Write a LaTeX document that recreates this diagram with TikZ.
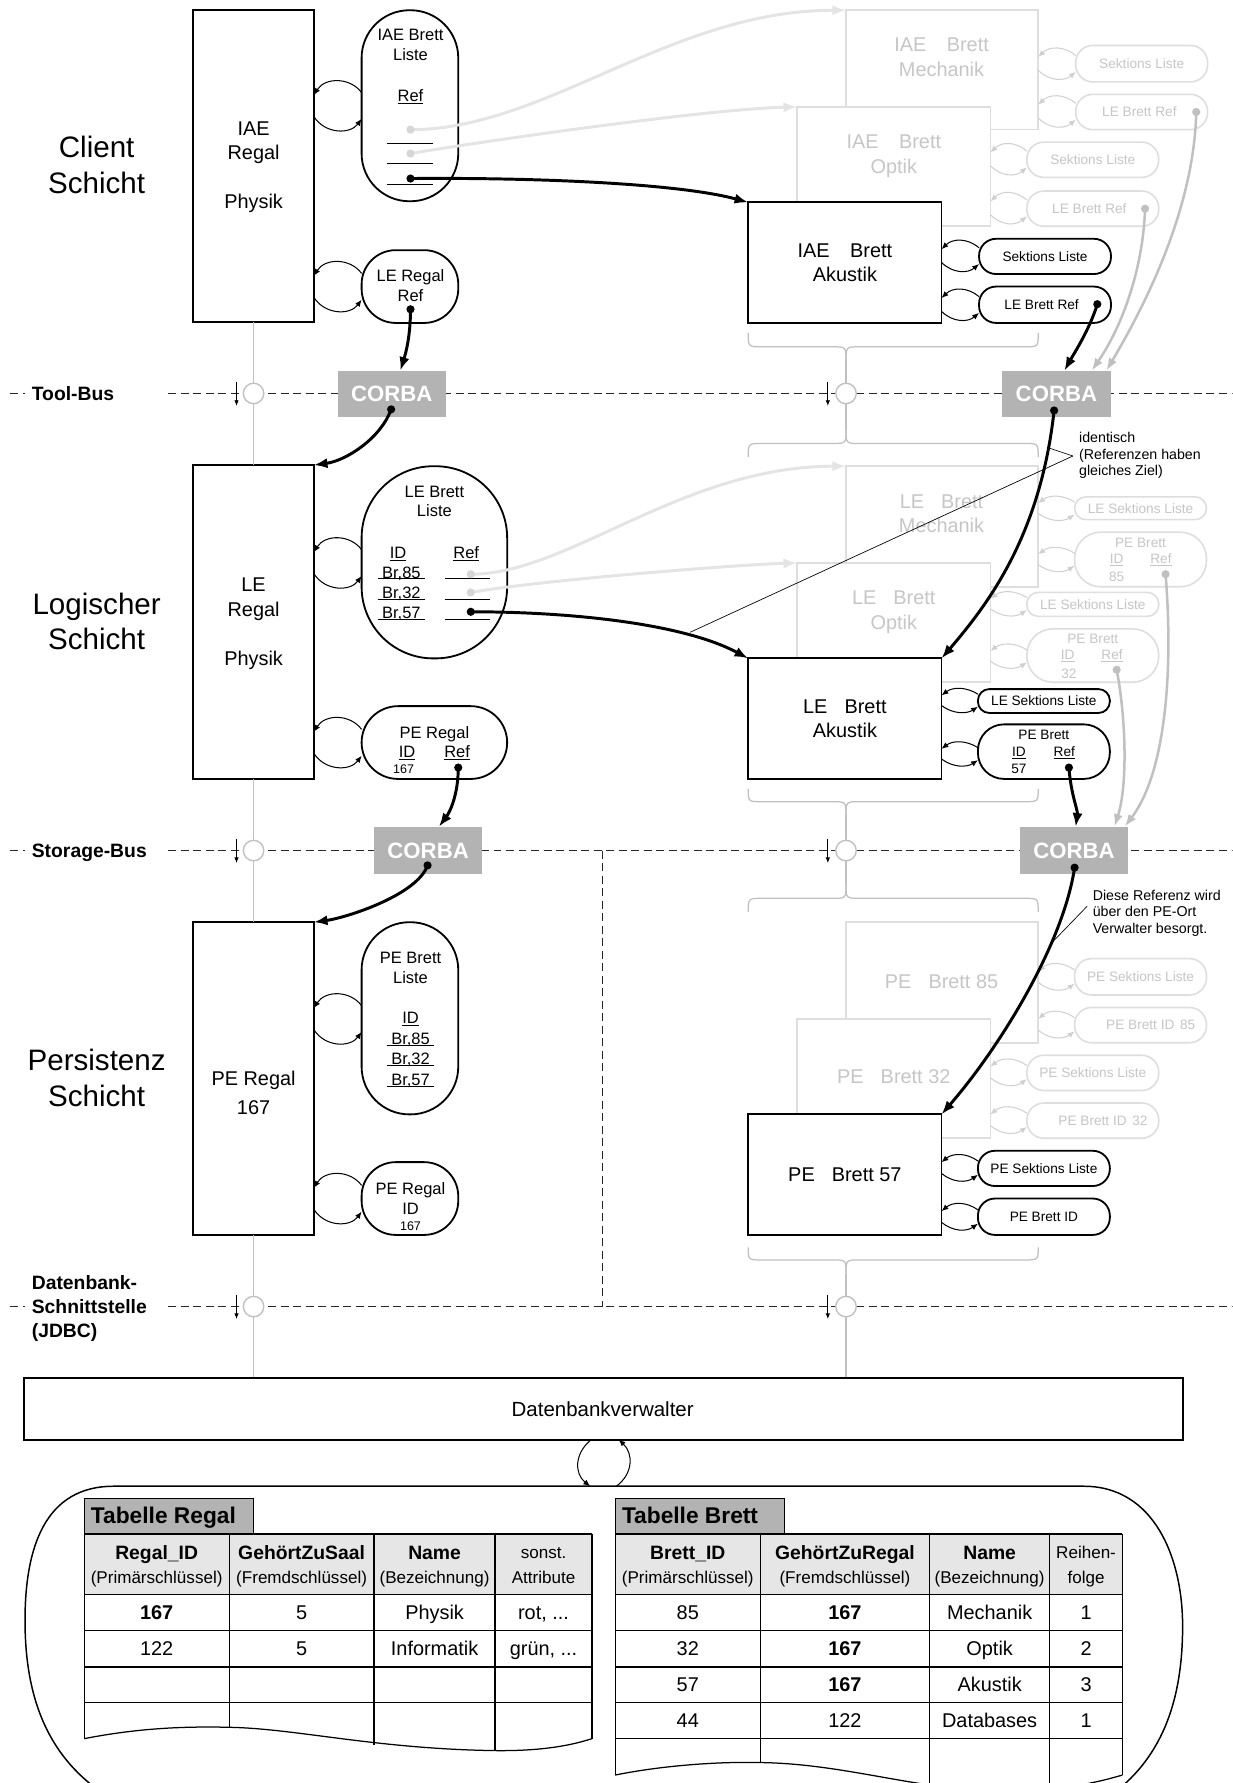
\documentclass[tikz,border=0pt]{standalone}
\usepackage{fontspec}
\setmainfont{Liberation Sans}
\usetikzlibrary{arrows.meta,calc}
\definecolor{fbord}{HTML}{DEDEDE}
\definecolor{ftext}{HTML}{C6C6C6}
\definecolor{fcurve}{HTML}{E4E4E4}
\definecolor{fdot}{HTML}{D6D6D6}
\definecolor{mgray}{HTML}{C0C0C0}
\definecolor{corba}{HTML}{B3B3B3}
\definecolor{hdr}{HTML}{E6E6E6}
\definecolor{floop}{HTML}{D0D0D0}
\newcounter{tn}
\newcommand\tx[3][]{\stepcounter{tn}\edef\tnn{\arabic{tn}}\node[txt,#1] (t\tnn) at (#2) {#3};}
\newcommand\bx[6][]{\node[#1,anchor=north west,minimum width={(#5)-(#3)},minimum height={(#6)-(#4)}] (#2) at (#3,#4) {};}
\newcommand\lp[5][]{%
 \draw[loopst,#1] (#3,{#4-0.55*#5}) .. controls ({#3-10},{#4-1.2*#5}) and ({#2+10},{#4-1.2*#5}) .. (#2,{#4-0.45*#5});
 \draw[loopst,#1] (#2,{#4+0.45*#5}) .. controls ({#2+10},{#4+1.2*#5}) and ({#3-10},{#4+1.2*#5}) .. (#3,{#4+0.55*#5});}
\newcommand\brd[2]{%
 \draw[brc] (658,#1) .. controls (658,#2) .. (670,#2) -- (732,#2) .. controls (744,#2) .. (744,{#2+12});
 \draw[brc] (913,#1) .. controls (913,#2) .. (901,#2) -- (756,#2) .. controls (744,#2) .. (744,{#2+12});}
\newcommand\bru[2]{%
 \draw[brc] (658,#2) .. controls (658,#1) .. (670,#1) -- (732,#1) .. controls (744,#1) .. (744,{#1-12});
 \draw[brc] (913,#2) .. controls (913,#1) .. (901,#1) -- (756,#1) .. controls (744,#1) .. (744,{#1-12});}
\tikzset{
 txt/.style={inner sep=0pt,outer sep=0pt,text depth=0pt},
 fA/.style={font=\fontsize{26}{30}\selectfont,text height=18.6pt},
 fB/.style={font=\fontsize{17.5}{21}\selectfont,text height=12.5pt},
 fBb/.style={font=\fontsize{17}{21}\selectfont\bfseries,text height=12.2pt},
 fP/.style={font=\fontsize{14.5}{17}\selectfont,text height=10.4pt},
 fS/.style={font=\fontsize{12}{14}\selectfont,text height=8.6pt},
 fN/.style={font=\fontsize{11}{13}\selectfont,text height=7.9pt},
 fH/.style={font=\fontsize{15}{18}\selectfont,text height=10.7pt},
 fC/.style={font=\fontsize{19.5}{23}\selectfont\bfseries,text height=14pt,text=white},
 fT/.style={font=\fontsize{20}{24}\selectfont\bfseries,text height=14.3pt},
 fD/.style={font=\fontsize{18}{22}\selectfont,text height=12.9pt},
 fa/.style={font=\fontsize{12.5}{15}\selectfont,text height=9pt},
 ft/.style={text=ftext},
}
\begin{document}
\begin{tikzpicture}[x=1pt,y=-1pt,
 mbox/.style={draw,line width=1.6pt,fill=white,inner sep=0pt,outer sep=0pt},
 fbx/.style={draw=fbord,line width=1.4pt,fill=white,inner sep=0pt,outer sep=0pt},
 cbox/.style={fill=corba,inner sep=0pt,outer sep=0pt},
 tabst/.style={draw,line width=1.1pt,fill=corba,inner sep=0pt,outer sep=0pt},
 tarr/.style={line width=2.6pt,-{Latex[length=12pt,width=9pt]}},
 farr/.style={draw=fcurve,line width=2.6pt,-{Latex[length=12pt,width=9pt]}},
 garr/.style={draw=mgray,line width=2.2pt,-{Latex[length=11pt,width=8pt]}},
 loopst/.style={line width=0.9pt,-{Latex[length=6pt,width=5pt]}},
 floopst/.style={draw=floop},
 brc/.style={draw=mgray,line width=1.1pt},
 bus/.style={draw=black!85,line width=1pt,dash pattern=on 7pt off 4pt},
 busc/.style={draw=mgray,fill=white,line width=1.2pt,circle,minimum size=18pt,inner sep=0pt},
 sarr/.style={line width=0.8pt,-{Latex[length=5pt,width=4pt]}},
 uline/.style={line width=0.8pt},
 tline/.style={line width=1.1pt},
 ann/.style={line width=0.6pt},
]
\useasboundingbox (0,0) rectangle (1084,1568);
\clip (0,0) rectangle (1084,1568);
\fill[white] (0,0) rectangle (1084,1568);

% ---------- layer names ----------
\tx[fA]{85,129}{Client} \tx[fA]{85,161}{Schicht}
\tx[fA]{85,531}{Logischer} \tx[fA]{85,562}{Schicht}
\tx[fA]{85,932}{Persistenz} \tx[fA]{85,964}{Schicht}

% ---------- buses ----------
\foreach \yy in {346,748,1149} {\draw[bus] (9,\yy)--(22,\yy); \draw[bus] (148,\yy)--(1084,\yy);}
\draw[bus] (530,748)--(530,1149);
\tx[fBb,anchor=west]{28,346}{Tool-Bus}
\tx[fBb,anchor=west]{28,748}{Storage-Bus}
\tx[fBb,anchor=west]{28,1128}{Datenbank-}
\tx[fBb,anchor=west]{28,1149}{Schnittstelle}
\tx[fBb,anchor=west]{28,1170}{(JDBC)}

% ---------- braces (right) ----------
\brd{293}{305} \bru{390}{402}
\brd{694}{705} \bru{790}{802}
\brd{1097}{1108}
\draw[brc] (744,317)--(744,378);
\draw[brc] (744,717)--(744,778);
\draw[brc] (744,1120)--(744,1212);

% ---------- left column ----------
\bx[mbox]{RegIAE}{170}{9}{276}{283}
\tx[fB]{223,113}{IAE} \tx[fB]{223,134}{Regal} \tx[fB]{223,177}{Physik}
\bx[mbox,rounded corners=42pt]{IAEBL}{318}{9}{403}{177}
\tx[fP]{361,30}{IAE Brett} \tx[fP]{361,48}{Liste} \tx[fP]{361,84}{\underline{Ref}}
\draw[uline] (340,126)--(381,126); \draw[uline] (340,143.5)--(381,143.5); \draw[uline] (340,162)--(381,162);
\bx[mbox,rounded corners=30pt]{LERR}{318}{220}{403}{284}
\tx[fP]{361,242}{LE Regal} \tx[fP]{361,260}{Ref}
\lp{276}{318}{93}{21} \lp{276}{318}{252}{21}

\bx[mbox]{RegLE}{170}{409}{276}{685}
\tx[fB]{223,514}{LE} \tx[fB]{223,536}{Regal} \tx[fB]{223,579}{Physik}
\bx[mbox,rounded corners=63pt]{LEBL}{318}{410}{446}{579}
\tx[fP]{382,432}{LE Brett} \tx[fP]{382,449}{Liste}
\tx[fP]{350,486}{\underline{ID}} \tx[fP]{410,486}{\underline{Ref}}
\tx[fP]{353,503.5}{Br,85} \tx[fP]{353,521}{Br,32} \tx[fP]{353,538.5}{Br,57}
\foreach \yy in {509,527,545} {\draw[uline] (332,\yy)--(373.5,\yy); \draw[uline] (391,\yy)--(431,\yy);}
\bx[mbox,rounded corners=32pt]{PER}{318}{621}{446}{685}
\tx[fP]{382,644}{PE Regal} \tx[fP]{358,661}{\underline{ID}} \tx[fP]{402,661}{\underline{Ref}} \tx[fN]{355,676}{167}
\lp{276}{318}{495}{21} \lp{276}{318}{653}{21}

\bx[mbox]{RegPE}{170}{811}{276}{1086}
\tx[fB]{223,948.5}{PE Regal} \tx[fB]{223,974}{167}
\bx[mbox,rounded corners=42pt]{PEBL}{318}{811}{403}{980}
\tx[fP]{361,842}{PE Brett} \tx[fP]{361,859.3}{Liste} \tx[fP]{361,895.3}{\underline{ID}}
\tx[fP]{361,913.6}{Br,85} \tx[fP]{361,931}{Br,32} \tx[fP]{361,949}{Br,57}
\foreach \yy in {919.5,937,955} {\draw[uline] (340,\yy)--(381.6,\yy);}
\bx[mbox,rounded corners=30pt]{PERID}{318}{1022}{403}{1086}
\tx[fP]{361,1045}{PE Regal} \tx[fP]{361,1063}{ID} \tx[fN]{361,1078}{167}
\lp{276}{318}{896}{21} \lp{276}{318}{1054}{21}

\draw[brc] (RegIAE.south)--(RegLE.north);
\draw[brc] (RegLE.south)--(RegPE.north);
\draw[brc] (RegPE.south)--(223,1212);

% ---------- right: client layer ----------
\bx[fbx]{IMe}{744}{9}{913}{114}
\tx[fB,ft]{828,39}{IAE\hspace{18pt}Brett} \tx[fB,ft]{828,61}{Mechanik}
\bx[fbx,rounded corners=15pt]{IMeS}{946}{40}{1062}{72} \tx[fS,ft]{1004,56}{Sektions Liste}
\bx[fbx,rounded corners=15pt]{IMeR}{946}{83}{1062}{114} \tx[fS,ft]{1002,98.5}{LE Brett Ref}
\lp[floopst]{913}{946}{56}{13} \lp[floopst]{913}{946}{98}{13}
\bx[fbx]{IOp}{701}{94}{871}{199}
\tx[fB,ft]{786,124.5}{IAE\hspace{18pt}Brett} \tx[fB,ft]{786,146}{Optik}
\bx[fbx,rounded corners=15pt]{IOpS}{903}{125}{1019}{156} \tx[fS,ft]{961,140.5}{Sektions Liste}
\bx[fbx,rounded corners=15pt]{IOpR}{903}{168}{1019}{199} \tx[fS,ft]{958,183.5}{LE Brett Ref}
\lp[floopst]{871}{903}{140}{13} \lp[floopst]{871}{903}{183}{13}
\bx[mbox]{IAk}{658}{178}{828}{284}
\tx[fB]{743,220}{IAE\hspace{18pt}Brett} \tx[fB]{743,241}{Akustik}
\bx[mbox,rounded corners=15pt]{IAkS}{861}{210}{977}{241} \tx[fS]{919,225.5}{Sektions Liste}
\bx[mbox,rounded corners=15pt]{IAkR}{861}{252}{977}{284} \tx[fS]{916,268}{LE Brett Ref}
\lp{828}{861}{225}{13} \lp{828}{861}{268}{13}

% ---------- right: logic layer ----------
\bx[fbx]{LMe}{744}{410}{913}{516}
\tx[fB,ft]{828,441}{LE\hspace{15pt}Brett} \tx[fB,ft]{828,462}{Mechanik}
\bx[fbx,rounded corners=10pt]{LMeS}{945}{437}{1061}{457} \tx[fS,ft]{1003,447}{LE Sektions Liste}
\bx[fbx,rounded corners=23pt]{LMeP}{945}{468}{1061}{516}
\tx[fS,ft]{1003,477}{PE Brett} \tx[fS,ft]{982,491.5}{\underline{ID}} \tx[fS,ft]{1021,491.5}{\underline{Ref}} \tx[fS,ft]{982,507}{85}
\lp[floopst]{913}{945}{447}{10} \lp[floopst]{913}{945}{492}{10}
\bx[fbx]{LOp}{701}{495}{871}{600}
\tx[fB,ft]{786,525}{LE\hspace{15pt}Brett} \tx[fB,ft]{786,547}{Optik}
\bx[fbx,rounded corners=10pt]{LOpS}{903}{521}{1019}{542} \tx[fS,ft]{961,531.6}{LE Sektions Liste}
\bx[fbx,rounded corners=23pt]{LOpP}{903}{553}{1019}{600}
\tx[fS,ft]{961,562}{PE Brett} \tx[fS,ft]{939,576}{\underline{ID}} \tx[fS,ft]{978,576}{\underline{Ref}} \tx[fS,ft]{940,592}{32}
\lp[floopst]{871}{903}{531}{10} \lp[floopst]{871}{903}{577}{10}
\bx[mbox]{LAk}{658}{579}{828}{685}
\tx[fB]{743,621}{LE\hspace{15pt}Brett} \tx[fB]{743,642}{Akustik}
\bx[mbox,rounded corners=10pt]{LAkS}{860}{606}{976}{627} \tx[fS]{918,616.5}{LE Sektions Liste}
\bx[mbox,rounded corners=23pt]{LAkP}{860}{637}{976}{685}
\tx[fS]{918,646}{PE Brett} \tx[fS]{896,661}{\underline{ID}} \tx[fS]{936,661}{\underline{Ref}} \tx[fS]{896,676}{57}
\lp{828}{860}{616}{10} \lp{828}{860}{663}{10}

% ---------- right: persistence layer ----------
\bx[fbx]{P85}{744}{811}{913}{917}
\tx[fB,ft]{828,863}{PE\hspace{15pt}Brett 85}
\bx[fbx,rounded corners=15pt]{P85S}{945}{843}{1061}{875} \tx[fS,ft]{1003,859}{PE Sektions Liste}
\bx[fbx,rounded corners=15pt]{P85I}{945}{886}{1061}{917} \tx[fS,ft]{1012,901}{PE Brett ID\hspace{5pt}85}
\lp[floopst]{913}{945}{859}{11} \lp[floopst]{913}{945}{901}{11}
\bx[fbx]{P32}{701}{896}{871}{1001}
\tx[fB,ft]{786,947}{PE\hspace{15pt}Brett 32}
\bx[fbx,rounded corners=15pt]{P32S}{903}{928}{1019}{959} \tx[fS,ft]{961,943.5}{PE Sektions Liste}
\bx[fbx,rounded corners=15pt]{P32I}{903}{970}{1019}{1001} \tx[fS,ft]{970,985.5}{PE Brett ID\hspace{5pt}32}
\lp[floopst]{871}{903}{943}{11} \lp[floopst]{871}{903}{985}{11}
\bx[mbox]{P57}{658}{980}{828}{1086}
\tx[fB]{743,1033}{PE\hspace{15pt}Brett 57}
\bx[mbox,rounded corners=15pt]{P57S}{860}{1012}{976}{1043} \tx[fS]{918,1027.5}{PE Sektions Liste}
\bx[mbox,rounded corners=15pt]{P57I}{860}{1054}{976}{1086} \tx[fS]{918,1070}{PE Brett ID}
\lp{828}{860}{1027}{11} \lp{828}{860}{1070}{11}

% ---------- bus circles and small arrows ----------
\node[busc] (cT1) at (223,346) {}; \node[busc] (cS1) at (223,748) {}; \node[busc] (cJ1) at (223,1149) {};
\node[busc] (cT2) at (744,346) {}; \node[busc] (cS2) at (744,748) {}; \node[busc] (cJ2) at (744,1149) {};
\foreach \yy in {346,748,1149} {\draw[sarr] (208,\yy-10)--(208,\yy+11); \draw[sarr] (728,\yy-10)--(728,\yy+11);}

% ---------- CORBA ----------
\bx[cbox]{C1}{297}{326}{392}{367} \tx[fC]{344.5,346.5}{CORBA}
\bx[cbox]{C2}{329}{727}{424}{769} \tx[fC]{376.5,748}{CORBA}
\bx[cbox]{C3}{881}{326}{977}{367} \tx[fC]{929,346.5}{CORBA}
\bx[cbox]{C4}{897}{727}{992}{769} \tx[fC]{944.5,748}{CORBA}

% ---------- dot coordinates ----------
\coordinate (dI1) at (361,114); \coordinate (dI2) at (361,135); \coordinate (dI3) at (361,157);
\coordinate (dLR) at (361,272);
\coordinate (dL1) at (414,505); \coordinate (dL2) at (414,521); \coordinate (dL3) at (414,538);
\coordinate (dPR) at (403,675);
\coordinate (dC1) at (344,360); \coordinate (dC2) at (376,761);
\coordinate (dC3) at (927,361); \coordinate (dC4) at (945,763);
\coordinate (dIMe) at (1052,98.5); \coordinate (dIOp) at (1007,183.5); \coordinate (dIAk) at (965,267.5);
\coordinate (dLMe) at (1025,505); \coordinate (dLOp) at (982,589); \coordinate (dLAk) at (940,675);

% ---------- connectors ----------
\draw[farr] (dI1) .. controls (480,114) and (590,9) .. (IMe.north west);
\draw[farr] (dI2) .. controls (420,125) and (620,96) .. (IOp.north west);
\draw[tarr] (dI3) .. controls (480,156) and (600,162) .. (IAk.north west);
\draw[farr] (dL1) .. controls (500,505) and (600,410) .. (LMe.north west);
\draw[farr] (dL2) .. controls (470,511) and (640,497) .. (LOp.north west);
\draw[tarr] (dL3) .. controls (500,538) and (600,548) .. (LAk.north west);

\draw[tarr] (dLR) .. controls (361,295) and (357,310) .. ($(C1.north west)+(55,0)$);
\draw[tarr] (dC1) .. controls (335,385) and (305,405) .. (RegLE.north east);
\draw[tarr] (dPR) .. controls (403,700) and (395,715) .. ($(C2.north west)+(57,0)$);
\draw[tarr] (dC2) .. controls (367,787) and (305,807) .. (RegPE.north east);

\draw[garr] (dIMe) .. controls (1050,190) and (1000,280) .. ($(C3.north west)+(92,0)$);
\draw[garr] (dIOp) .. controls (1005,240) and (985,290) .. ($(C3.north west)+(79,0)$);
\draw[tarr] (dIAk) .. controls (958,290) and (945,310) .. ($(C3.north west)+(55,0)$);
\draw[garr] (dLMe) .. controls (1032,590) and (1025,680) .. ($(C4.north west)+(92,0)$);
\draw[garr] (dLOp) .. controls (990,630) and (992,690) .. ($(C4.north west)+(83,0)$);
\draw[tarr] (dLAk) .. controls (942,700) and (948,712) .. ($(C4.north west)+(49,0)$);

\draw[tarr] (dC3) .. controls (915,470) and (870,530) .. (LAk.north east);
\draw[tarr] (dC4) .. controls (935,830) and (880,920) .. (P57.north east);

% ---------- dots ----------
\foreach \d in {dI1,dI2,dL1,dL2} {\fill[fdot] (\d) circle (3.6pt);}
\foreach \d in {dIMe,dIOp,dLMe,dLOp} {\fill[mgray] (\d) circle (3.6pt);}
\foreach \d in {dI3,dLR,dL3,dPR,dC1,dC2,dC3,dC4,dIAk,dLAk} {\fill (\d) circle (3.6pt);}

% ---------- annotations ----------
\coordinate (an1) at (943.5,401);
\draw[ann] (an1) -- (922.5,394);
\draw[ann] (an1) -- (607,556);
\tx[fa,anchor=west]{949,385}{identisch}
\tx[fa,anchor=west]{949,400}{(Referenzen haben}
\tx[fa,anchor=west]{949,414}{gleiches Ziel)}
\coordinate (an2) at (956,797);
\draw[ann] (an2) -- (926,828);
\tx[fa,anchor=west]{961,787}{Diese Referenz wird}
\tx[fa,anchor=west]{961,801.5}{über den PE-Ort}
\tx[fa,anchor=west]{961,816}{Verwalter besorgt.}

% ---------- database ----------
\bx[mbox]{DBV}{21}{1212}{1040}{1266}
\tx[fD]{530,1239}{Datenbankverwalter}
\draw[loopst] (520,1266) .. controls (505,1278) and (505,1296) .. (519,1307);
\draw[loopst] (542,1307) .. controls (557,1296) and (557,1278) .. (544,1266);
\draw[line width=1.3pt] (95,1580) .. controls (40,1545) and (22,1490) .. (22,1425) .. controls (22,1360) and (40,1307) .. (100,1307) -- (953,1307) .. controls (1015,1307) and (1040,1370) .. (1040,1430) .. controls (1040,1490) and (1025,1545) .. (975,1580);

% Tabelle Regal
\bx[tabst]{TRtab}{74}{1318}{223}{1349}
\tx[fT,anchor=west]{80,1333}{Tabelle Regal}
\fill[hdr] (74,1349) rectangle (520.5,1402);
\draw[tline] (74,1349)--(520.5,1349);
\foreach \yy in {1402,1434,1466,1497.5} {\draw[tline] (74,\yy)--(520.5,\yy);}
\draw[tline] (74,1349)--(74,1529);
\draw[tline] (520.5,1349)--(520.5,1529);
\draw[tline] (201.5,1349)--(201.5,1519);
\draw[tline] (329,1349)--(329,1535);
\draw[tline] (435.4,1349)--(435.4,1539.5);
\draw[tline] (74,1529) .. controls (120,1520) and (160,1518) .. (201.5,1519) .. controls (260,1520) and (330,1538) .. (435.4,1539.5) .. controls (480,1540) and (505,1534) .. (520.5,1529);
\tx[fBb]{137.75,1365.6}{Regal\_ID} \tx[fH]{137.75,1387.5}{(Primärschlüssel)}
\tx[fBb]{265.25,1365.6}{GehörtZuSaal} \tx[fH]{265.25,1387.5}{(Fremdschlüssel)}
\tx[fBb]{382.2,1365.6}{Name} \tx[fH]{382.2,1387.5}{(Bezeichnung)}
\tx[fH]{478,1365.6}{sonst.} \tx[fH]{478,1387.5}{Attribute}
\tx[fB]{137.75,1418}{\textbf{167}} \tx[fB]{265.25,1418}{5} \tx[fB]{382.2,1418}{Physik} \tx[fB]{478,1418}{rot, ...}
\tx[fB]{137.75,1450}{122} \tx[fB]{265.25,1450}{5} \tx[fB]{382.2,1450}{Informatik} \tx[fB]{478,1450}{grün, ...}

% Tabelle Brett
\bx[tabst]{TBtab}{541}{1318}{690}{1349}
\tx[fT,anchor=west]{547,1333}{Tabelle Brett}
\fill[hdr] (541,1349) rectangle (987,1402);
\draw[tline] (541,1349)--(987,1349);
\foreach \yy in {1402,1434,1466,1497.5,1529} {\draw[tline] (541,\yy)--(987,\yy);}
\draw[tline] (541,1349)--(541,1561);
\draw[tline] (987,1349)--(987,1561);
\draw[tline] (668.7,1349)--(668.7,1550);
\draw[tline] (817.4,1349)--(817.4,1575);
\draw[tline] (923.2,1349)--(923.2,1575);
\draw[tline] (541,1561) .. controls (580,1553) and (630,1549) .. (668.7,1550) .. controls (740,1551) and (800,1572) .. (870,1575) .. controls (930,1577) and (970,1566) .. (987,1561);
\tx[fBb]{604.85,1365.6}{Brett\_ID} \tx[fH]{604.85,1387.5}{(Primärschlüssel)}
\tx[fBb]{743.05,1365.6}{GehörtZuRegal} \tx[fH]{743.05,1387.5}{(Fremdschlüssel)}
\tx[fBb]{870.3,1365.6}{Name} \tx[fH]{870.3,1387.5}{(Bezeichnung)}
\tx[fH]{955.1,1365.6}{Reihen-} \tx[fH]{955.1,1387.5}{folge}
\tx[fB]{604.85,1418}{85} \tx[fB]{743.05,1418}{\textbf{167}} \tx[fB]{870.3,1418}{Mechanik} \tx[fB]{955.1,1418}{1}
\tx[fB]{604.85,1450}{32} \tx[fB]{743.05,1450}{\textbf{167}} \tx[fB]{870.3,1450}{Optik} \tx[fB]{955.1,1450}{2}
\tx[fB]{604.85,1481.5}{57} \tx[fB]{743.05,1481.5}{\textbf{167}} \tx[fB]{870.3,1481.5}{Akustik} \tx[fB]{955.1,1481.5}{3}
\tx[fB]{604.85,1513}{44} \tx[fB]{743.05,1513}{122} \tx[fB]{870.3,1513}{Databases} \tx[fB]{955.1,1513}{1}
\end{tikzpicture}
\end{document}
